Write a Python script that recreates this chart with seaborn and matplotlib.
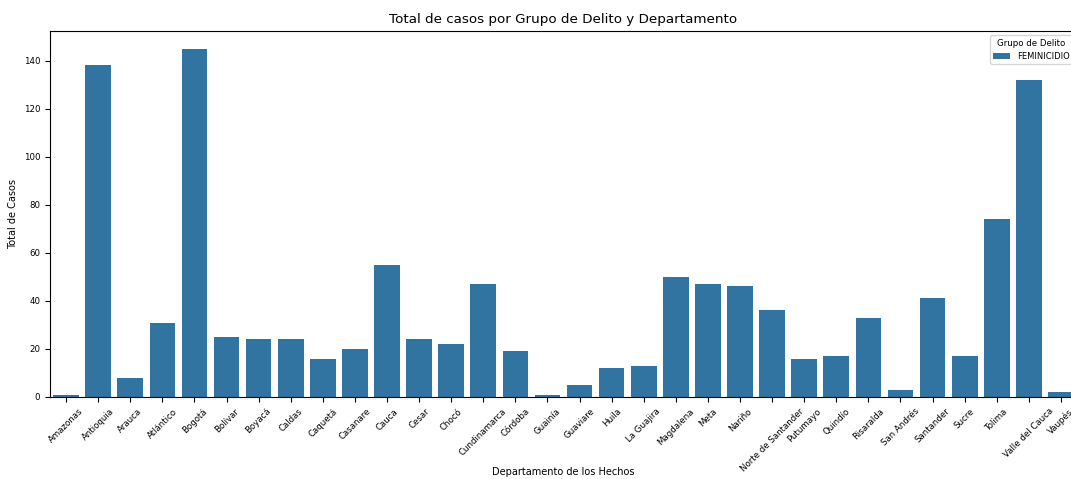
import pandas as pd
import seaborn as sns
import matplotlib
matplotlib.use("Agg")
import matplotlib.pyplot as plt

# departments and case counts
departamentos = [
    "Amazonas", "Antioquia", "Arauca", "Atlántico", "Bogotá", "Bolívar",
    "Boyacá", "Caldas", "Caquetá", "Casanare", "Cauca", "Cesar", "Chocó",
    "Cundinamarca", "Córdoba", "Guainía", "Guaviare", "Huila", "La Guajira",
    "Magdalena", "Meta", "Nariño", "Norte de Santander", "Putumayo",
    "Quindío", "Risaralda", "San Andrés", "Santander", "Sucre", "Tolima",
    "Valle del Cauca", "Vaupés",
]
casos = [
    1, 138, 8, 31, 145, 25,
    24, 24, 16, 20, 55, 24, 22,
    47, 19, 1, 5, 12, 13,
    50, 47, 46, 36, 16,
    17, 33, 3, 41, 17, 74,
    132, 2,
]
grupo = "FEMINICIDIO"

df = pd.DataFrame({
    "Departamento": departamentos,
    "Total": casos,
    "Grupo de Delito": [grupo] * len(departamentos),
})

fig = plt.figure(figsize=(10.71, 4.79), dpi=100)
ax = fig.add_axes([0.0467, 0.1712, 0.9589, 0.7638])

sns.barplot(data=df, x="Departamento", y="Total", hue="Grupo de Delito", ax=ax)

ax.set_title("Total de casos por Grupo de Delito y Departamento", fontsize=9.7)
ax.set_xlabel("Departamento de los Hechos", fontsize=7)
ax.xaxis.set_label_coords(0.5, -0.19)
ax.set_ylabel("Total de Casos", fontsize=7)
ax.tick_params(axis="both", labelsize=6.2)
plt.setp(ax.get_xticklabels(), rotation=45)

leg = ax.legend(title="Grupo de Delito", loc="upper right", fontsize=6.0,
                title_fontsize=6.2)

fig.savefig("out.png", dpi=100)
